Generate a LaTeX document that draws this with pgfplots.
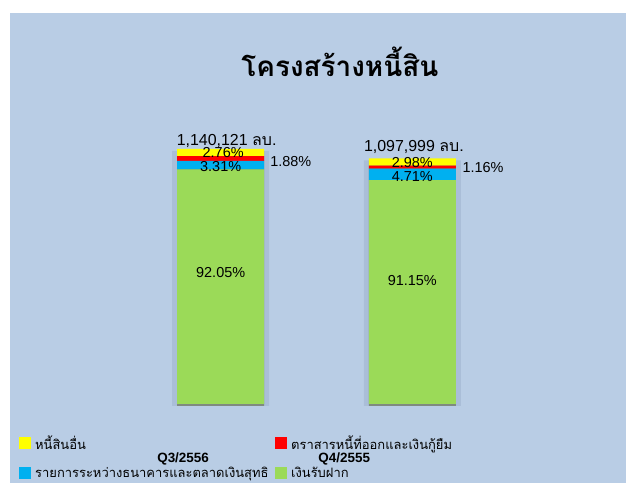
\documentclass[border=0pt]{standalone}
\usepackage{pgfplots}
\usepackage{pgfplotstable}
\pgfplotsset{compat=1.18}
\usepackage{fontspec}
\setmainfont{Liberation Sans}
\newfontfamily\thai[Script=Thai]{Loma}
\definecolor{bg}{HTML}{B9CDE5}
\definecolor{cgreen}{HTML}{9BDA58}
\definecolor{ccyan}{HTML}{00B0F0}
\definecolor{cred}{HTML}{FF0000}
\definecolor{cyel}{HTML}{FFFF00}
\definecolor{shad}{HTML}{AABED8}
\definecolor{shaddark}{HTML}{7F8A80}
\tikzset{lab/.style={font=\fontsize{14.5}{17}\selectfont, inner sep=0pt},
  tot/.style={font=\fontsize{16}{19}\selectfont, inner sep=0pt}}
\pgfplotsset{same geom/.style={anchor=south west, scale only axis,
  width=575bp, height=300bp, xmin=-1, xmax=2, ymin=0, ymax=1341300}}

% absolute values (from percentages x totals)
\pgfplotstableread{
x g c r o t
0 1049481 37738 21434 31467 1140121
1 1000826 51716 12737 32720 1097999
}\data

\begin{document}
\begin{tikzpicture}[x=1bp,y=1bp]
\fill[white] (0,0) rectangle (626,483);
\fill[bg] (10,0) rectangle (626,470);
\useasboundingbox (0,0) rectangle (626,483);
\node[font=\thai\bfseries\fontsize{28}{32}\selectfont] at (340,421) {โครงสร้างหนี้สิน};

% shadow behind bars
\begin{axis}[at={(29bp,77bp)}, same geom, hide axis, ybar]
\addplot[fill=shad, draw=none, bar width=97bp, bar shift=0bp] table[x=x,y=t]{\data};
\addplot[fill=shaddark, draw=none, bar width=87bp, bar shift=0bp] table[x=x,y=t]{\data};
\end{axis}

\begin{axis}[at={(29bp,79bp)}, same geom,
  ybar stacked, bar width=87bp, clip=false,
  axis line style={draw=none}, ytick=\empty,
  xtick={-0.196,0.645}, xticklabels={Q3/2556,Q4/2555},
  major tick length=0pt,
  xticklabel style={anchor=center, yshift=-55bp, font=\bfseries\fontsize{13.5}{16}\selectfont},
  legend columns=2, reverse legend, legend cell align=left,
  legend image code/.code={\fill[#1] (0bp,-6bp) rectangle (12bp,6bp);},
  legend style={at={(-0.0174,-0.097)}, anchor=north west, draw=none, fill=none,
    inner sep=0pt, column sep=2bp, row sep=13bp,
    font=\thai\fontsize{13}{15}\selectfont},
]
\addplot[fill=cgreen, draw=none] table[x=x,y=g]{\data};
\addlegendentry{เงินรับฝาก}
\addplot[fill=ccyan, draw=none] table[x=x,y=c]{\data};
\addlegendentry{\makebox[236bp][l]{รายการระหว่างธนาคารและตลาดเงินสุทธิ}}
\addplot[fill=cred, draw=none] table[x=x,y=r]{\data};
\addlegendentry{ตราสารหนี้ที่ออกและเงินกู้ยืม}
\addplot[fill=cyel, draw=none] table[x=x,y=o]{\data};
\addlegendentry{\makebox[236bp][l]{หนี้สินอื่น}}
\end{axis}

% data labels
\begin{axis}[at={(29bp,79bp)}, same geom, hide axis, clip=false]
\node[lab] at (axis cs:0,585700) {92.05\%};
\node[lab] at (axis cs:0,1059627) {3.31\%};
\node[lab] at (axis cs:0.013,1122221) {2.76\%};
\node[lab,anchor=west] at (axis cs:0.258,1081982) {1.88\%};
\node[lab] at (axis cs:1,549933) {91.15\%};
\node[lab] at (axis cs:1,1014917) {4.71\%};
\node[lab] at (axis cs:1,1077511) {2.98\%};
\node[lab,anchor=west] at (axis cs:1.261,1055156) {1.16\%};
\node[tot] at (axis cs:0.031,1175873) {1,140,121 {\thai ลบ.}};
\node[tot] at (axis cs:1.008,1149047) {1,097,999 {\thai ลบ.}};
\end{axis}
\end{tikzpicture}
\end{document}
